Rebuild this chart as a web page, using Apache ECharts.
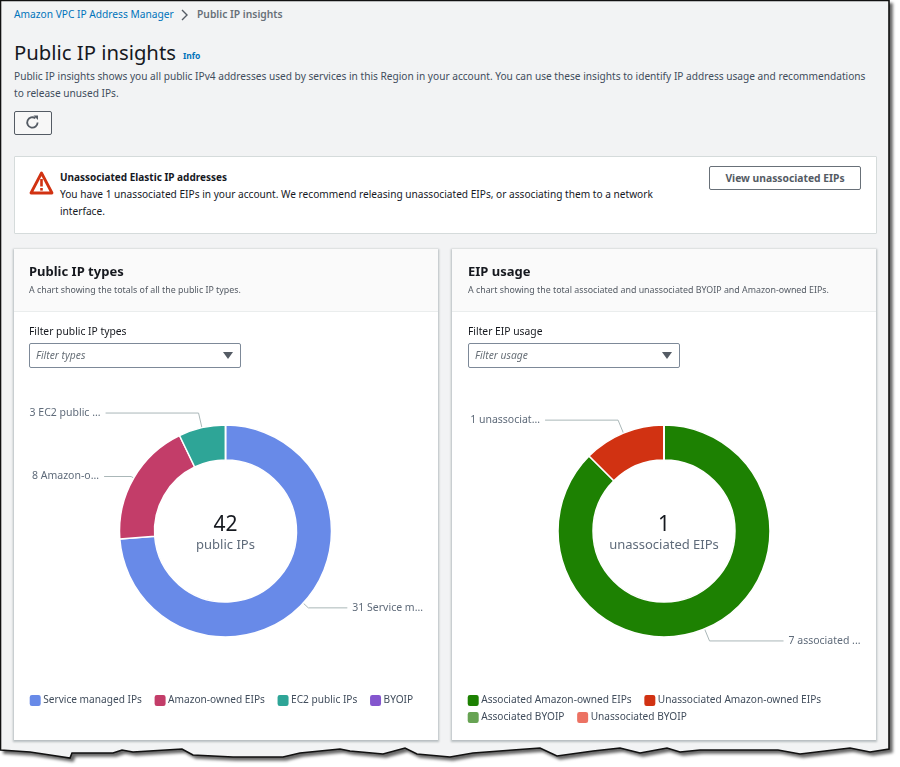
<!DOCTYPE html>
<html>
<head>
<meta charset="utf-8">
<title>Public IP insights</title>
<script src="https://cdn.jsdelivr.net/npm/echarts@6/dist/echarts.min.js"></script>
<style>
html, body { margin: 0; padding: 0; background: #fff; }
body { width: 900px; height: 767px; position: relative; overflow: hidden; font-family: "Noto Sans", "Open Sans", sans-serif; color: #16191f; }
.abs { position: absolute; white-space: nowrap; }
.panel { position: absolute; top: 249px; width: 424px; height: 491px; background: #fff; box-shadow: 0 1px 2px 1px rgba(0,28,36,.25); }
.panel-head { position: absolute; left: 0; top: 0; right: 0; height: 62px; background: #fafafa; border-bottom: 1px solid #eaeded; }
.chart { position: absolute; left: 0; top: 0; width: 424px; height: 491px; }
.select { position: absolute; top: 343px; width: 210px; height: 23px; background: #fff; border: 1px solid #7d8998; border-radius: 2px; }
.select i { position: absolute; left: 6px; top: 4px; font-size: 10.3px; color: #687078; }
.select b { position: absolute; right: 7px; top: 8px; width: 0; height: 0; border-left: 5px solid transparent; border-right: 5px solid transparent; border-top: 7px solid #545b64; }
.title2 { font-size: 13px; font-weight: 700; color: #16191f; }
.sub { font-size: 8.85px; color: #545b64; }
.lab { font-size: 10.3px; color: #16191f; }
.body { font-size: 10.15px; color: #414d5c; }
</style>
</head>
<body>
<svg class="abs" style="left:0;top:0;filter:drop-shadow(3px 3px 1.5px rgba(0,0,0,.6))" width="900" height="767">
  <path fill="#f2f3f4" stroke="#111" stroke-width="1.6" d="M0.5 0.5H889V749L870 752L850 748L800 754L778 750L770 750L700 750L680 752L667 748L640 753L620 748L593 751L557 756L540 748L473 753L450 757L417 754L405 748L383 754L350 751L340 749L300 753L283 757L233 757L193 755L182 749L133 752L122 750L113 753L72 753L70 758L50 755L30 752L0.5 750Z"/>
</svg>

<div class="abs" style="left:14px;top:7px;font-size:10.2px;color:#0073bb">Amazon VPC IP Address Manager</div>
<svg class="abs" style="left:180px;top:9px" width="10" height="12"><path d="M2 1L7 6L2 11" fill="none" stroke="#545b64" stroke-width="1.4"/></svg>
<div class="abs" style="left:197px;top:7px;font-size:10.3px;font-weight:600;color:#687078">Public IP insights</div>

<div class="abs" style="left:14px;top:38px;font-size:20.3px;color:#16191f">Public IP insights</div>
<div class="abs" style="left:183px;top:50px;font-size:8.5px;font-weight:700;color:#0073bb">Info</div>
<div class="abs body" style="left:14px;top:69px">Public IP insights shows you all public IPv4 addresses used by services in this Region in your account. You can use these insights to identify IP address usage and recommendations</div>
<div class="abs body" style="left:14px;top:86px">to release unused IPs.</div>

<div class="abs" style="left:14px;top:111px;width:36px;height:22px;border:1px solid #545b64;border-radius:2px;background:#f7f7f7"></div>
<svg class="abs" style="left:25px;top:115px" width="15" height="15"><path d="M12.6 7.5A5.2 5.2 0 1 1 10.4 3.2" fill="none" stroke="#545b64" stroke-width="1.8"/><path d="M8.5 0.5L13 0.5L13 5Z" fill="#545b64"/></svg>

<div class="abs" style="left:14px;top:156px;width:861px;height:76px;background:#fff;border:1px solid #d5dbdb;border-radius:1px"></div>
<svg class="abs" style="left:29px;top:170px" width="25" height="26"><path d="M12.5 3L23 23H2Z" fill="none" stroke="#d13212" stroke-width="2.8" stroke-linejoin="round"/><rect x="11.2" y="9" width="2.6" height="7.5" fill="#d13212"/><rect x="11.2" y="18" width="2.6" height="2.6" fill="#d13212"/></svg>
<div class="abs" style="left:60px;top:170px;font-size:10px;font-weight:700;color:#16191f">Unassociated Elastic IP addresses</div>
<div class="abs" style="left:60px;top:187px;font-size:10.15px;color:#16191f">You have 1 unassociated EIPs in your account. We recommend releasing unassociated EIPs, or associating them to a network</div>
<div class="abs" style="left:60px;top:204px;font-size:10.15px;color:#16191f">interface.</div>
<div class="abs" style="left:709px;top:166px;width:150px;height:22px;border:1px solid #687078;border-radius:2px;background:#fff;font-size:10.3px;font-weight:700;color:#545b64;text-align:center;line-height:22px">View unassociated EIPs</div>

<div class="panel" style="left:14px">
  <div class="panel-head"></div>
  <div class="chart" id="typesChart"></div>
</div>
<div class="panel" style="left:452px">
  <div class="panel-head"></div>
  <div class="chart" id="usageChart"></div>
</div>

<div class="abs title2" style="left:29px;top:262px">Public IP types</div>
<div class="abs sub" style="left:29px;top:284px">A chart showing the totals of all the public IP types.</div>
<div class="abs lab" style="left:29px;top:324px">Filter public IP types</div>
<div class="select" style="left:29px"><i>Filter types</i><b></b></div>

<div class="abs title2" style="left:468px;top:262px">EIP usage</div>
<div class="abs sub" style="left:468px;top:284px">A chart showing the total associated and unassociated BYOIP and Amazon-owned EIPs.</div>
<div class="abs lab" style="left:468px;top:324px">Filter EIP usage</div>
<div class="select" style="left:468px"><i>Filter usage</i><b></b></div>

<script>
var ipTypeNames = ['Service managed IPs', 'Amazon-owned EIPs', 'EC2 public IPs', 'BYOIP'];
var ipTypeLabels = ['Service managed IPs', 'Amazon-owned EIPs', 'EC2 public IPs', 'BYOIP'];
var ipTypeValues = [31, 8, 3, 0];
var ipTypeColors = ['#688ae8', '#c33d69', '#2ea597', '#8456ce'];

var eipNames = ['Associated Amazon-owned EIPs', 'Unassociated Amazon-owned EIPs', 'Associated BYOIP', 'Unassociated BYOIP'];
var eipLabels = ['associated Amazon-owned EIPs', 'unassociated Amazon-owned EIPs', 'associated BYOIP', 'unassociated BYOIP'];
var eipValues = [7, 1, 0, 0];
var eipColors = ['#1d8102', '#d13212', '#67a353', '#ec7263'];

var fontName = '"Noto Sans", "Open Sans", sans-serif';

function donut(el, cx, names, labels, values, colors, legendRows, callouts, total, unit) {
    var chart = echarts.init(document.getElementById(el));
    var data = names.map(function (name, i) {
        var item = { name: name, value: values[i], itemStyle: { color: colors[i] } };
        if (values[i] > 0) {
            item.labelLine = { length: callouts[i][0], length2: callouts[i][1] };
        } else {
            item.label = { show: false };
            item.labelLine = { show: false };
        }
        return item;
    });
    chart.setOption({
        animation: false,
        title: {
            text: total,
            subtext: unit,
            left: cx,
            top: 266,
            textAlign: 'center',
            itemGap: 3,
            padding: 0,
            textStyle: { fontFamily: fontName, fontSize: 21, fontWeight: 'normal', color: '#16191f' },
            subtextStyle: { fontFamily: fontName, fontSize: 13, color: '#5f6b7a' }
        },
        legend: legendRows.map(function (row, i) {
            return {
                data: row,
                left: 13.7,
                top: 444 + i * 17,
                itemWidth: 13,
                itemHeight: 13,
                itemGap: 10.7,
                padding: 0,
                icon: 'roundRect',
                selectedMode: false,
                textStyle: { fontFamily: fontName, fontSize: 10.15, color: '#414d5c', padding: [0, 0, 0, -3.5] }
            };
        }),
        series: [{
            type: 'pie',
            center: [cx, 282],
            radius: [71, 106],
            startAngle: 90,
            avoidLabelOverlap: false,
            itemStyle: { borderColor: '#fff', borderWidth: 1.5 },
            label: {
                formatter: function (p) { return p.value + ' ' + labels[p.dataIndex]; },
                width: 75,
                overflow: 'truncate',
                ellipsis: '...',
                fontFamily: fontName,
                fontSize: 10.5,
                color: '#5f6b7a'
            },
            labelLine: { lineStyle: { color: '#aab7b8', width: 1 } },
            data: data
        }]
    });
}

donut('typesChart', 211.5, ipTypeNames, ipTypeLabels, ipTypeValues, ipTypeColors,
    [ipTypeNames], [[7, 39], [3, 27], [15, 93]], '42', 'public IPs');
donut('usageChart', 212, eipNames, eipLabels, eipValues, eipColors,
    [eipNames.slice(0, 2), eipNames.slice(2)], [[13, 74], [14, 73]], '1', 'unassociated EIPs');
</script>
</body>
</html>
